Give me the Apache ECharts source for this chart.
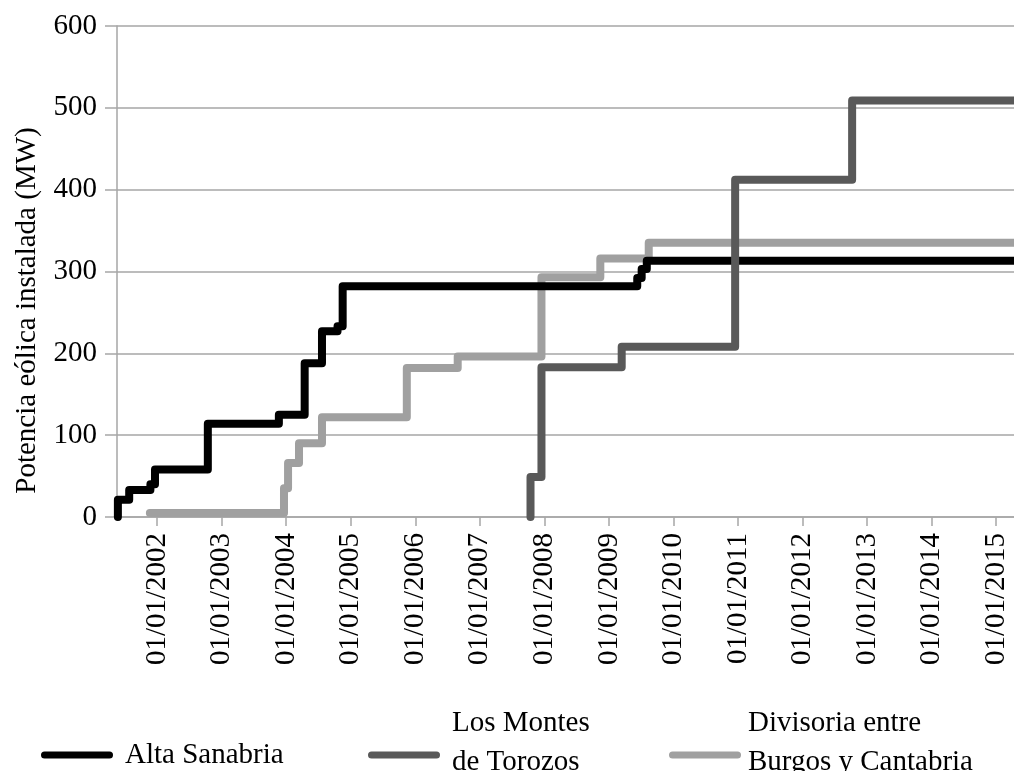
<!DOCTYPE html>
<html><head><meta charset="utf-8">
<script src="https://cdn.jsdelivr.net/npm/echarts@6/dist/echarts.min.js"></script>
<style>html,body{margin:0;padding:0;background:#fff}#c{width:1014px;height:771px}</style>
</head><body><div id="c"></div>
<script>
// ---- data ----
const axisMin = '2001-05-19';
const axisMax = '2015-04-12';
const tickYears = [2002,2003,2004,2005,2006,2007,2008,2009,2010,2011,2012,2013,2014,2015];
const yMin = 0, yMax = 600, yStep = 100;

const seriesNames = ['Alta Sanabria', 'Los Montes de Torozos', 'Divisoria entre Burgos y Cantabria'];
const legendLines = [['Alta Sanabria'], ['Los Montes', 'de Torozos'], ['Divisoria entre', 'Burgos y Cantabria']];

const altaDates = ['2001-05-24','2001-05-24','2001-07-27','2001-11-24','2001-12-20','2002-10-15','2003-11-21','2004-04-15','2004-07-22','2004-10-18','2004-11-16','2009-06-10','2009-07-05','2009-08-03','2015-12-31'];
const altaValues = [0,21,33,40,58,114,125,188,227,233,282,292,303,313,313];

const montesDates = ['2007-10-15','2007-10-15','2007-12-16','2009-03-14','2010-12-16','2012-10-08','2015-12-31'];
const montesValues = [0,49,183,208,412,509,509];

const divisoriaDates = ['2001-11-21','2003-12-20','2004-01-12','2004-03-14','2004-07-22','2005-11-14','2006-08-29','2007-12-16','2008-11-13','2009-08-14','2015-12-31'];
const divisoriaValues = [5,35,66,90,122,182,196,293,316,335,335];

// ---- chart ----
const FONT = 'Liberation Serif';
const GRID_C = '#a6a6a6';
const colors = ['#000000', '#595959', '#a0a0a0'];
const toTime = s => { const p = s.split('-').map(Number); return new Date(p[0], p[1] - 1, p[2]).getTime(); };
const pair = (d, v) => d.map((x, i) => [toTime(x), v[i]]);
const tickTimes = tickYears.map(y => new Date(y, 0, 1).getTime());
const pad2 = n => (n < 10 ? '0' : '') + n;
const iconPath = 'path://M3.5,0L68.5,0A3.5,3.5,0,0,1,68.5,7L3.5,7A3.5,3.5,0,0,1,3.5,0Z';

function mkSeries(idx, data, z) {
  return {
    name: seriesNames[idx], type: 'line', step: 'end', data: data,
    symbol: 'none', showSymbol: false, z: z, clip: true,
    itemStyle: { color: colors[idx] },
    lineStyle: { color: colors[idx], width: 8, cap: 'round', join: 'round' }
  };
}
function mkLegend(idx, left, top, itemWidth) {
  const lines = legendLines[idx];
  const multi = lines.length > 1;
  return {
    data: [seriesNames[idx]], left: left, top: top, orient: 'horizontal',
    icon: iconPath, itemWidth: itemWidth, itemHeight: 7,
    itemStyle: { borderWidth: 0 },
    formatter: () => multi ? lines.map(l => '{t|' + l + '}').join('\n') + '\n{s| }' : lines[0],
    textStyle: {
      fontFamily: FONT, fontSize: 29, color: '#000', lineHeight: 38,
      rich: {
        t: { fontFamily: FONT, fontSize: 29, color: '#000', lineHeight: 39 },
        s: { fontSize: 1, lineHeight: 24 }
      }
    },
    selectedMode: false
  };
}

const chart = echarts.init(document.getElementById('c'), null, { renderer: 'canvas' });
chart.setOption({
  animation: false,
  backgroundColor: '#fff',
  grid: { left: 117, right: 0, top: 26, bottom: 254, containLabel: false },
  xAxis: {
    type: 'value', min: toTime(axisMin), max: toTime(axisMax), scale: true,
    axisLine: { show: true, lineStyle: { color: GRID_C, width: 1.5 } },
    axisTick: { show: true, length: 9, customValues: tickTimes, lineStyle: { color: GRID_C, width: 1.5 } },
    axisLabel: {
      customValues: tickTimes, rotate: 90, margin: 16,
      fontFamily: FONT, fontSize: 29, color: '#000',
      formatter: function (v) { const d = new Date(v); return pad2(d.getDate()) + '/' + pad2(d.getMonth() + 1) + '/' + d.getFullYear(); }
    },
    splitLine: { show: false }
  },
  yAxis: {
    type: 'value', min: yMin, max: yMax, interval: yStep,
    name: 'Potencia eólica instalada (MW)', nameLocation: 'middle', nameGap: 75,
    nameTextStyle: { fontFamily: FONT, fontSize: 29, color: '#000', padding: [0, 78, 0, 0] },
    axisLine: { show: true, lineStyle: { color: GRID_C, width: 1.5 } },
    axisTick: { show: true, length: 12, lineStyle: { color: GRID_C, width: 1.5 } },
    axisLabel: { margin: 20, fontFamily: FONT, fontSize: 29, color: '#000' },
    splitLine: { show: true, lineStyle: { color: GRID_C, width: 1.5 } }
  },
  legend: [
    mkLegend(0, 36, 731, 86),
    mkLegend(1, 363, 699, 86),
    mkLegend(2, 664, 699, 76)
  ],
  series: [
    mkSeries(2, pair(divisoriaDates, divisoriaValues), 2),
    mkSeries(0, pair(altaDates, altaValues), 3),
    mkSeries(1, pair(montesDates, montesValues), 4)
  ]
});
</script>
</body></html>
